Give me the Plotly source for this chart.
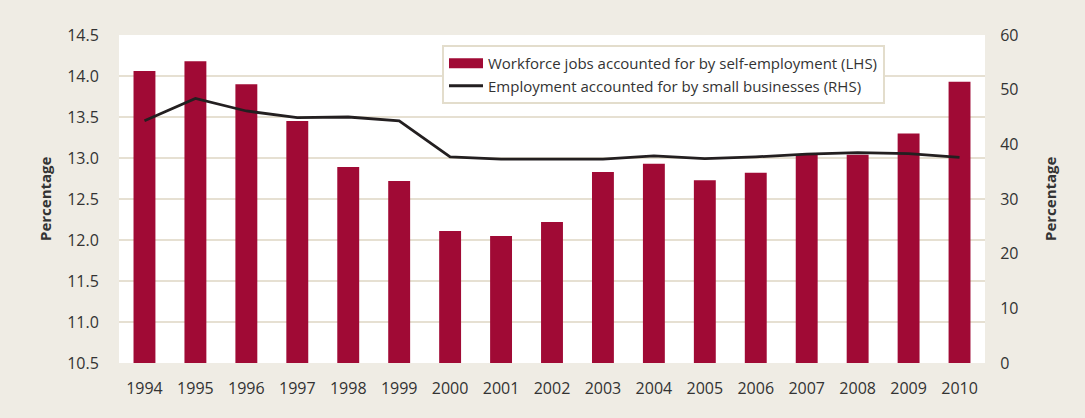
import plotly.graph_objects as go

# Years on the category axis
years = ["1994", "1995", "1996", "1997", "1998", "1999", "2000", "2001", "2002",
         "2003", "2004", "2005", "2006", "2007", "2008", "2009", "2010"]

# Share of workforce jobs that are self-employment (%, left axis)
self_employment = [14.06, 14.18, 13.90, 13.45, 12.89, 12.72, 12.11, 12.05, 12.22,
                   12.83, 12.93, 12.73, 12.82, 13.05, 13.04, 13.30, 13.93]

# Share of employment in small businesses (%, right axis)
small_business = [44.3, 48.4, 46.1, 44.9, 45.0, 44.3, 37.7, 37.3, 37.3,
                  37.3, 37.9, 37.4, 37.7, 38.2, 38.5, 38.3, 37.6]

left_ticks = [10.5, 11.0, 11.5, 12.0, 12.5, 13.0, 13.5, 14.0, 14.5]
right_ticks = [0, 10, 20, 30, 40, 50, 60]

BAR = "#a00a35"
LINE = "#231f20"
BG = "#efece4"
GRID = "#e6e0d2"
TEXT = "#333333"
FONT = "Open Sans"

bar_name = "Workforce jobs accounted for by self-employment (LHS)"
line_name = "Employment accounted for by small businesses (RHS)"

fig = go.Figure()

fig.add_trace(go.Bar(
    x=years, y=self_employment, name=bar_name, marker_color=BAR,
    marker_line_width=0, yaxis="y", showlegend=False,
))
# Legend proxy giving the bar series a wide, flat swatch
fig.add_trace(go.Scatter(
    x=[None], y=[None], mode="lines", name=bar_name,
    line=dict(color=BAR, width=11), yaxis="y",
))
fig.add_trace(go.Scatter(
    x=years, y=small_business, name=line_name, mode="lines",
    line=dict(color=LINE, width=2.8), yaxis="y2",
))

fig.update_layout(
    width=1085, height=418,
    margin=dict(l=119, r=100, t=35, b=55),
    paper_bgcolor=BG, plot_bgcolor="white",
    font=dict(family=FONT, size=16, color=TEXT),
    bargap=0.57,
    showlegend=True,
    legend=dict(
        x=(442 - 119) / 866, y=(363 - 45) / 328, xanchor="left", yanchor="top",
        bgcolor="white", bordercolor="#e3ddcc", borderwidth=2,
        font=dict(family=FONT, size=15, color=TEXT),
        itemwidth=34, traceorder="normal",
    ),
    xaxis=dict(
        type="category", showgrid=False, zeroline=False, showline=False,
        ticks="outside", ticklen=11, tickcolor="rgba(0,0,0,0)",
        tickfont=dict(size=16, color=TEXT),
    ),
    yaxis=dict(
        range=[10.5, 14.5], tickvals=left_ticks,
        ticktext=[f"{v:.1f}" for v in left_ticks],
        showgrid=True, gridcolor=GRID, gridwidth=2, zeroline=False, showline=False,
        ticks="outside", ticklen=16, tickcolor="rgba(0,0,0,0)",
        tickfont=dict(size=16, color=TEXT),
    ),
    yaxis2=dict(
        range=[0, 60], tickvals=right_ticks, overlaying="y", side="right",
        showgrid=False, zeroline=False, showline=False,
        ticks="outside", ticklen=11, tickcolor="rgba(0,0,0,0)",
        tickfont=dict(size=16, color=TEXT),
    ),
    annotations=[
        dict(text="<b>Percentage</b>", xref="paper", yref="paper", x=0, y=0.5,
             xanchor="center", yanchor="middle", xshift=-74, textangle=-90,
             showarrow=False, font=dict(family=FONT, size=15, color=TEXT)),
        dict(text="<b>Percentage</b>", xref="paper", yref="paper", x=1, y=0.5,
             xanchor="center", yanchor="middle", xshift=65, textangle=-90,
             showarrow=False, font=dict(family=FONT, size=15, color=TEXT)),
    ],
)

fig.write_html("out.html")
